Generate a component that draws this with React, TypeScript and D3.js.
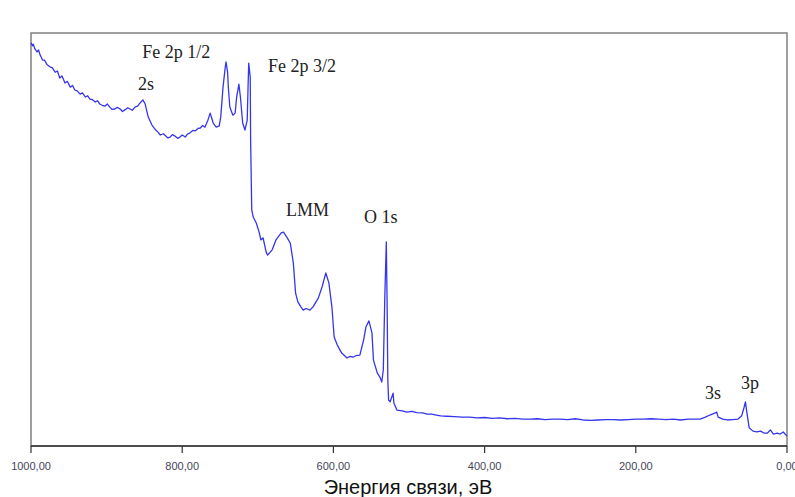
import React from 'react'
import * as d3 from 'd3'

// binding energy (eV) and intensity (arb. units, 0..100)
const energy = [
  1000, 998, 997, 995, 992, 990, 988, 986, 985, 982, 979, 975, 972, 968, 965, 962, 959, 955, 952, 948,
  945, 942, 939, 935, 932, 928, 925, 922, 919, 915, 912, 909, 906, 902, 899, 896, 893, 889, 886, 882,
  879, 875, 872, 869, 866, 862, 859, 856, 852, 849, 845, 840, 835, 832, 829, 825, 822, 819, 816, 813,
  810, 806, 803, 800, 796, 793, 790, 786, 783, 779, 776, 773, 770, 766, 763, 759, 755, 751, 749, 746,
  743, 742, 740, 739, 737, 733, 730, 728, 725, 723, 720, 717, 714, 713, 712, 710, 709.5, 708, 706, 702,
  698, 696, 693, 689, 687, 681, 676, 669, 666, 661, 657, 653, 650, 647, 643, 640, 636, 631, 627, 620,
  615, 610, 606, 602, 599, 595, 589, 582, 578, 574, 570, 565, 560, 557, 553, 549, 547, 542, 538, 536,
  534, 532, 530, 529, 528, 527, 525, 521, 520, 516, 509, 503, 496, 490, 482, 476, 470, 464, 458, 450,
  440, 430, 420, 410, 400, 390, 380, 370, 360, 350, 340, 330, 320, 310, 300, 290, 280, 270, 260, 250,
  240, 230, 220, 210, 200, 190, 180, 170, 160, 150, 141, 130, 115, 108, 102, 95, 93, 91, 85, 79,
  72, 65, 60, 57, 55, 53, 50, 45, 40, 35, 30, 26, 22, 18, 13, 9, 5, 0
]

const intensity = [
  97.6, 96.9, 97.3, 96.2, 95.4, 95.9, 94.7, 94.0, 93.5, 93.4, 92.4, 91.8, 91.6, 90.5, 90.8, 89.1, 89.6, 87.9, 88.3, 86.9,
  87.3, 86.2, 86.0, 85.2, 85.5, 84.5, 84.8, 84.0, 83.9, 83.3, 83.6, 82.8, 82.5, 82.3, 82.8, 82.1, 81.5, 81.6, 82.0, 81.6,
  81.0, 81.5, 81.9, 81.6, 81.3, 82.1, 82.3, 83.0, 83.8, 82.8, 79.7, 77.7, 76.5, 76.0, 75.3, 75.6, 75.1, 74.6, 74.8, 75.4,
  75.1, 74.5, 74.8, 75.3, 74.8, 75.5, 75.8, 76.4, 76.3, 76.9, 77.0, 77.6, 77.2, 78.9, 80.6, 78.2, 77.2, 77.5, 79.7, 86.9,
  91.8, 93.0, 90.6, 86.9, 82.1, 80.1, 80.6, 84.5, 87.6, 84.5, 78.2, 76.5, 78.9, 86.2, 92.7, 89.3, 74.1, 57.1, 55.4, 54.0,
  51.6, 49.9, 50.4, 47.0, 46.2, 47.5, 49.9, 51.6, 51.8, 50.4, 49.1, 44.3, 37.0, 34.9, 33.7, 32.9, 33.3, 32.9, 33.7, 35.8,
  38.5, 41.9, 39.5, 33.7, 26.4, 24.5, 22.5, 21.3, 21.7, 21.5, 21.9, 22.0, 25.7, 28.8, 30.3, 27.4, 20.8, 17.7, 16.5, 15.5,
  18.4, 36.1, 49.4, 35.3, 16.0, 11.1, 10.7, 12.8, 10.4, 8.7, 8.5, 8.2, 8.4, 8.1, 8.0, 7.7, 7.7, 7.5, 7.3, 7.2,
  7.1, 7.0, 7.0, 6.8, 6.9, 6.7, 6.8, 6.6, 6.7, 6.5, 6.5, 6.6, 6.4, 6.5, 6.5, 6.4, 6.6, 6.3, 6.2, 6.3,
  6.4, 6.4, 6.3, 6.4, 6.5, 6.5, 6.6, 6.5, 6.4, 6.5, 6.3, 6.5, 6.5, 7.0, 7.5, 8.0, 8.2, 7.0, 6.5, 6.3,
  6.4, 6.5, 7.3, 9.2, 10.7, 8.0, 4.4, 3.6, 3.4, 3.6, 3.1, 3.1, 3.9, 2.9, 3.1, 2.9, 3.4, 2.4
]

const xTicks = [1000, 800, 600, 400, 200, 0]

// peak annotations: text, energy, intensity of label baseline
const peakNames = ['Fe 2p 1/2', '2s', 'Fe 2p 3/2', 'LMM', 'O 1s', '3s', '3p']
const peakEnergy = [853, 858.5, 686.5, 662.7, 559.5, 108.5, 60.8]
const peakLevel = [93.9, 86.2, 90.5, 55.7, 54.0, 11.4, 13.8]

const width = 795
const height = 497
const margin = { top: 33, right: 8, bottom: 51, left: 31 }

const App = () => {
  const x = d3.scaleLinear()
    .domain([1000, 0])
    .range([margin.left, width - margin.right])

  const y = d3.scaleLinear()
    .domain([0, 100])
    .range([height - margin.bottom, margin.top])

  const pts = energy.map((e, i) => [e, intensity[i]] as [number, number])
  const line = d3.line<[number, number]>()
    .x(d => x(d[0]))
    .y(d => y(d[1]))

  const fmt = (v: number) => v.toFixed(2).replace('.', ',')
  const y0 = height - margin.bottom

  return (
    <svg width={width} height={height}
      style={{ position: 'absolute', left: 0, top: 0, background: '#fff' }}>
      <rect x={margin.left} y={margin.top}
        width={width - margin.right - margin.left} height={y0 - margin.top}
        fill='none' stroke='#808080' strokeWidth={1.5} />
      <path d={line(pts) || ''} fill='none' stroke='#3535ee' strokeWidth={1.3} strokeLinejoin='round' />
      <line x1={margin.left} x2={width - margin.right} y1={y0} y2={y0} stroke='#333' strokeWidth={1.3} />
      {xTicks.map(t => (
        <g key={t} transform={`translate(${x(t)},0)`}>
          <line y1={y0} y2={y0 + 7} stroke='#333' strokeWidth={1.2} />
          <text y={470} textAnchor='middle' fontFamily='Liberation Sans, Arial, sans-serif'
            fontSize={11} fill='#45455a'>{fmt(t)}</text>
        </g>
      ))}
      <text x={408} y={494} textAnchor='middle' fontFamily='Liberation Sans, Arial, sans-serif'
        fontSize={20} fill='#111'>Энергия связи, эВ</text>
      {peakNames.map((n, i) => (
        <text key={n} x={x(peakEnergy[i])} y={y(peakLevel[i])}
          fontFamily='Liberation Serif, Times New Roman, serif' fontSize={18} fill='#222'>{n}</text>
      ))}
    </svg>
  )
}

export default App
